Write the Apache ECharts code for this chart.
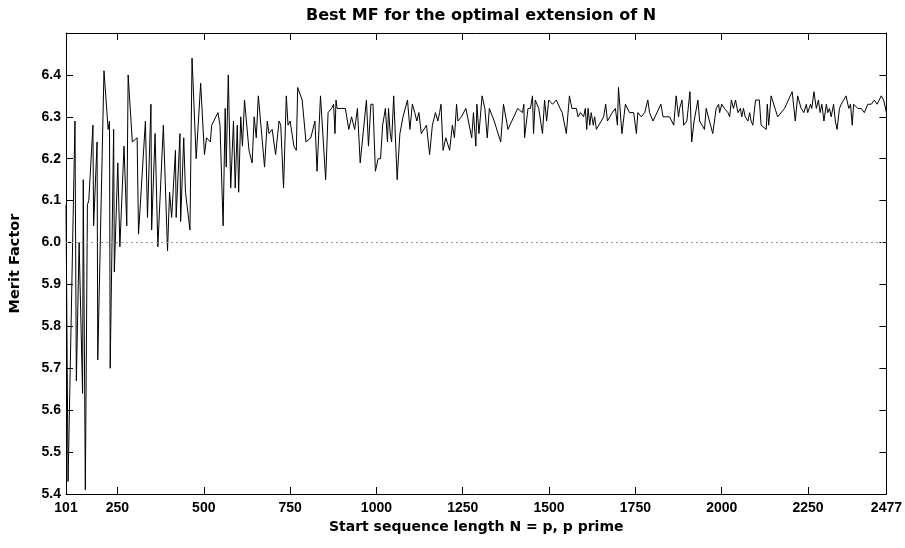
<!DOCTYPE html>
<html><head><meta charset="utf-8">
<script src="https://cdn.jsdelivr.net/npm/echarts@6/dist/echarts.min.js"></script>
<style>html,body{margin:0;padding:0;background:#fff}#c{width:905px;height:548px}</style>
</head><body><div id="c"></div>
<script>
const primesN = [
101,107,127,131,139,149,151,157,163,167,179,181,191,193,211,223,227,229,239,241,251,257,269,277,281,293,307,311,331,337,347,349,359,367,
383,395,401,407,418,420,431,433,442,447,460,466,478,491,502,508,519,523,541,547,556,562,565,571,578,586,591,597,601,607,612,618,631,640,
646,652,658,676,684,689,698,708,718,723,731,739,744,750,761,768,772,785,796,810,822,828,838,853,860,870,876,880,883,886,910,920,
928,937,945,953,971,977,984,990,997,1005,1012,1018,1022,1026,1032,1035,1040,1044,1050,1060,1068,1077,1090,1097,1104,1111,1117,1123,1130,1145,1154,1162,1171,1178,1183,
1187,1193,1201,1212,1220,1226,1232,1236,1246,1259,1276,1281,1288,1291,1297,1306,1314,1321,1327,1341,1360,1368,1381,1409,1423,1427,1429,1439,1446,1452,1455,1460,1470,
1481,1487,1493,1499,1510,1521,1532,1538,1550,1559,1566,1579,1584,1591,1600,1605,1609,1613,1618,1622,1628,1632,1637,1651,1658,1664,1669,1683,1692,1698,1701,1711,1721,1733,
1745,1753,1757,1767,1777,1786,1791,1801,1824,1830,1837,1849,1861,1868,1875,1878,1885,1890,1899,1908,1913,1920,1931,1936,1950,1955,1974,1984,1991,1994,2000,2008,
2018,2023,2028,2034,2040,2047,2054,2058,2063,2068,2076,2081,2085,2090,2098,2109,2114,2129,2132,2136,2143,2162,2182,2204,2213,2220,2230,2238,2245,2249,2257,2261,2267,
2274,2280,2285,2290,2296,2303,2307,2312,2317,2324,2329,2334,2341,2346,2353,2360,2368,2373,2378,2382,2394,2404,2413,2423,2433,2442,2450,2462,2469,2477
];
const meritFactor = [
6.09,5.43,6.29,5.67,6.00,5.64,6.15,5.41,6.09,6.10,6.28,6.04,6.24,5.72,6.41,6.27,6.29,5.70,6.27,5.93,6.19,5.99,6.23,6.04,6.40,6.24,6.25,6.02,6.29,6.06,6.33,6.03,6.26,5.99,
6.28,5.98,6.12,6.06,6.22,6.06,6.26,6.05,6.25,6.12,6.03,6.44,6.20,6.38,6.21,6.25,6.24,6.28,6.31,6.28,6.04,6.32,6.18,6.40,6.13,6.29,6.13,6.28,6.12,6.30,6.23,6.34,6.22,6.19,
6.30,6.25,6.35,6.18,6.29,6.26,6.27,6.21,6.29,6.28,6.13,6.35,6.28,6.29,6.23,6.22,6.37,6.34,6.24,6.25,6.29,6.17,6.35,6.15,6.31,6.32,6.33,6.26,6.34,6.32,6.32,6.27,
6.30,6.27,6.32,6.19,6.34,6.23,6.33,6.33,6.17,6.20,6.20,6.28,6.30,6.32,6.24,6.32,6.26,6.24,6.35,6.15,6.26,6.30,6.34,6.27,6.33,6.31,6.29,6.31,6.26,6.28,6.21,6.28,6.31,6.29,6.31,
6.33,6.22,6.25,6.22,6.28,6.25,6.33,6.29,6.30,6.32,6.25,6.31,6.23,6.33,6.26,6.35,6.32,6.25,6.32,6.29,6.24,6.33,6.27,6.32,6.31,6.33,6.25,6.32,6.32,6.35,6.26,6.34,6.32,
6.26,6.34,6.29,6.34,6.33,6.34,6.32,6.31,6.26,6.35,6.32,6.32,6.30,6.31,6.30,6.32,6.27,6.32,6.28,6.31,6.28,6.30,6.27,6.29,6.30,6.33,6.29,6.31,6.32,6.28,6.37,6.26,6.33,6.31,
6.31,6.26,6.31,6.30,6.31,6.34,6.31,6.29,6.33,6.30,6.30,6.30,6.28,6.35,6.30,6.32,6.34,6.28,6.29,6.36,6.24,6.29,6.34,6.29,6.27,6.32,6.26,6.32,6.33,6.31,6.33,6.32,
6.31,6.30,6.34,6.32,6.34,6.31,6.32,6.30,6.32,6.30,6.29,6.31,6.29,6.28,6.34,6.34,6.28,6.27,6.33,6.28,6.35,6.30,6.32,6.36,6.29,6.35,6.32,6.31,6.33,6.31,6.33,6.32,6.36,
6.32,6.34,6.31,6.33,6.29,6.33,6.31,6.32,6.30,6.33,6.29,6.27,6.32,6.33,6.34,6.35,6.32,6.33,6.28,6.33,6.32,6.32,6.31,6.33,6.33,6.34,6.33,6.35,6.34,6.31
];
const xTickValues = [101,250,500,750,1000,1250,1500,1750,2000,2250,2477];
const yMin = 5.4, yMax = 6.5, yStep = 0.1;
const referenceMF = 6.0;
const titleText = 'Best MF for the optimal extension of N';
const xName = 'Start sequence length N = p, p prime';
const yName = 'Merit Factor';

const seriesData = primesN.map((n, i) => [n, meritFactor[i]]);
const FONT = '"Liberation Sans", Arial, Helvetica, sans-serif';
const chart = echarts.init(document.getElementById('c'), null, {renderer: 'canvas'});
const tickStyle = {show: true, inside: true, length: 7, lineStyle: {color: '#000', width: 1}};
const lineAx = {show: true, lineStyle: {color: '#000', width: 1}};
chart.setOption({
  animation: false,
  backgroundColor: '#fff',
  title: {text: titleText, left: 476, top: 3, textAlign: 'center',
    textStyle: {fontFamily: '"DejaVu Sans", sans-serif', fontWeight: 'bold', fontSize: 16, color: '#000'}},
  grid: {left: 66, right: 18, top: 33, bottom: 54, containLabel: false},
  xAxis: [
    {type: 'value', min: 101, max: 2477, position: 'bottom',
     name: xName, nameLocation: 'middle', nameGap: 15,
     nameTextStyle: {fontFamily: '"DejaVu Sans", sans-serif', fontWeight: 'bold', fontSize: 14, color: '#000'},
     axisLine: lineAx,
     axisTick: Object.assign({}, tickStyle, {customValues: xTickValues}),
     axisLabel: {customValues: xTickValues, fontFamily: FONT, fontWeight: 'bold', fontSize: 14, color: '#000', margin: 7,
       formatter: v => String(Math.round(v))},
     splitLine: {show: false}},
    {type: 'value', min: 101, max: 2477, position: 'top',
     axisLine: lineAx,
     axisTick: Object.assign({}, tickStyle, {customValues: xTickValues}),
     axisLabel: {show: false}, splitLine: {show: false}}
  ],
  yAxis: [
    {type: 'value', min: yMin, max: yMax, interval: yStep, position: 'left',
     name: yName, nameLocation: 'middle', nameGap: 43,
     nameTextStyle: {fontFamily: '"DejaVu Sans", sans-serif', fontWeight: 'bold', fontSize: 14.5, color: '#000'},
     axisLine: lineAx, axisTick: tickStyle,
     axisLabel: {fontFamily: FONT, fontWeight: 'bold', fontSize: 14, color: '#000', margin: 5,
       showMaxLabel: false, formatter: v => v.toFixed(1)},
     splitLine: {show: false}},
    {type: 'value', min: yMin, max: yMax, interval: yStep, position: 'right',
     axisLine: lineAx, axisTick: tickStyle, axisLabel: {show: false}, splitLine: {show: false}}
  ],
  series: [{
    type: 'line', xAxisIndex: 0, yAxisIndex: 0, data: seriesData,
    showSymbol: false, symbol: 'none',
    lineStyle: {color: '#000', width: 1},
    markLine: {silent: true, symbol: ['none', 'none'], label: {show: false},
      lineStyle: {color: '#999', type: [2, 3], width: 1},
      data: [{yAxis: referenceMF}]}
  }]
});
</script></body></html>
